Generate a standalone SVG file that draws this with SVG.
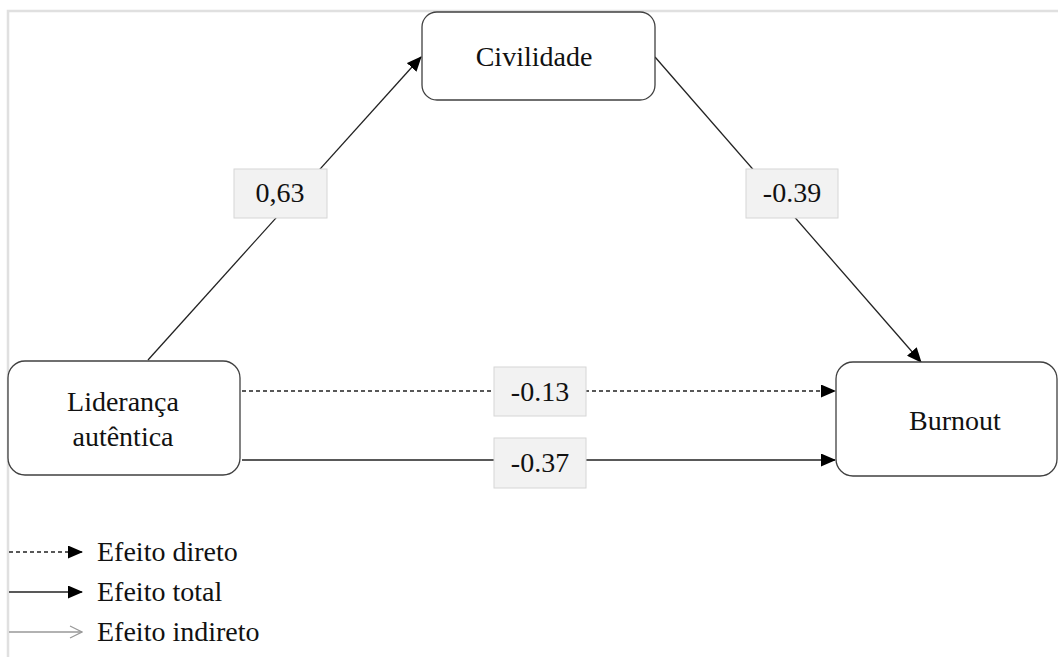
<svg xmlns="http://www.w3.org/2000/svg" width="1058" height="657" viewBox="0 0 1058 657">
<style>
.node{fill:#fff;stroke:#404040;stroke-width:1.3}
.t{font-family:"Liberation Serif","Times New Roman",serif;font-size:28px;fill:#111}
.lbl{fill:#f2f2f2;stroke:#d6d6d6;stroke-width:1}
.c{stroke:#222;stroke-width:1.3;fill:none}
.d{stroke-dasharray:4,3}
</style>
<defs>
<marker id="ah" markerWidth="15" markerHeight="13" refX="14" refY="6.5" orient="auto" markerUnits="userSpaceOnUse">
<path d="M0,0 L15,6.5 L0,13 Z" fill="#000"/>
</marker>
<marker id="ao" markerWidth="14" markerHeight="14" refX="13" refY="7" orient="auto" markerUnits="userSpaceOnUse">
<path d="M1,1 L13,7 L1,13" fill="none" stroke="#999" stroke-width="1.2"/>
</marker>
</defs>
<rect width="1058" height="657" fill="#fff"/>
<path d="M8,657 V11 H1058" fill="none" stroke="#e0e0e0" stroke-width="2.5"/>
<g id="connectors">
<line class="c" x1="148" y1="360" x2="421" y2="57" marker-end="url(#ah)"/>
<line class="c" x1="655" y1="57" x2="921" y2="362" marker-end="url(#ah)"/>
<line class="c d" x1="242" y1="391" x2="835" y2="391" marker-end="url(#ah)"/>
<line class="c" x1="242" y1="460" x2="835" y2="460" marker-end="url(#ah)"/>
</g>
<g id="civilidade">
<rect class="node" x="422" y="12" width="233" height="88" rx="15"/>
<text class="t" x="534" y="66" text-anchor="middle">Civilidade</text>
</g>
<g id="lideranca">
<rect class="node" x="8" y="361" width="232" height="114" rx="17"/>
<text class="t" x="123" y="411" text-anchor="middle">Liderança</text>
<text class="t" x="123" y="446" text-anchor="middle">autêntica</text>
</g>
<g id="burnout">
<rect class="node" x="836" y="362" width="221" height="114" rx="17"/>
<text class="t" x="955" y="430" text-anchor="middle">Burnout</text>
</g>
<g id="labels">
<rect class="lbl" x="234" y="169" width="93" height="49"/>
<text class="t" x="280" y="202" text-anchor="middle">0,63</text>
<rect class="lbl" x="746" y="169" width="92" height="49"/>
<text class="t" x="792" y="202" text-anchor="middle">-0.39</text>
<rect class="lbl" x="494" y="367" width="92" height="49"/>
<text class="t" x="540" y="401" text-anchor="middle">-0.13</text>
<rect class="lbl" x="494" y="438" width="92" height="50"/>
<text class="t" x="540" y="472" text-anchor="middle">-0.37</text>
</g>
<g id="legend">
<line class="c d" x1="9" y1="552" x2="82" y2="552" marker-end="url(#ah)"/>
<text class="t" x="97" y="561">Efeito direto</text>
<line class="c" x1="9" y1="592" x2="82" y2="592" marker-end="url(#ah)"/>
<text class="t" x="97" y="601">Efeito total</text>
<line x1="9" y1="632" x2="82" y2="632" stroke="#999" stroke-width="1.3" marker-end="url(#ao)"/>
<text class="t" x="97" y="641">Efeito indireto</text>
</g>
</svg>
